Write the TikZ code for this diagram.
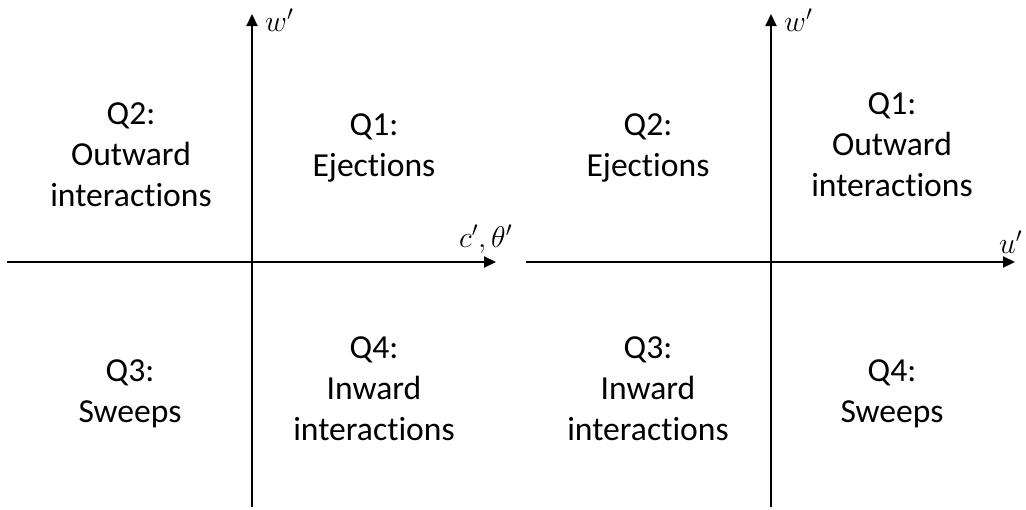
\RequirePackage{fix-cm}
\documentclass[tikz,border=0pt]{standalone}
\usepackage{fontspec}
\setmainfont{Carlito}[Ligatures=NoCommon]
\usetikzlibrary{arrows.meta}
\begin{document}
\begin{tikzpicture}[x=1pt,y=-1pt,
  axis/.style={line width=2.2pt,-{Triangle[length=12pt,width=11pt]}},
  quad/.style={align=center,anchor=base,inner sep=0pt,font=\fontsize{33.6}{41}\selectfont},
  lab/.style={anchor=base west,inner sep=0pt,font=\fontsize{30}{36}\selectfont}]
\useasboundingbox (0,0) rectangle (1026,509);
% left axes
\coordinate (lxs) at (7,262); \coordinate (lxe) at (496,262);
\coordinate (lys) at (252,507); \coordinate (lye) at (252,14);
\draw[axis] (lxs) -- (lxe);
\draw[axis] (lys) -- (lye);
% right axes
\coordinate (rxs) at (526,262); \coordinate (rxe) at (1015,262);
\coordinate (rys) at (771,507); \coordinate (rye) at (771,14);
\draw[axis] (rxs) -- (rxe);
\draw[axis] (rys) -- (rye);
% axis labels
\node[lab] (lw) at (265,31) {$w'$};
\node[lab] (lc) at (459,247) {$c',\theta'$};
\node[lab] (rw) at (784,31) {$w'$};
\node[lab] (ru) at (999,253) {$u'$};
% quadrant texts (anchored at baseline of last line)
\node[quad] (lq2) at (131,206) {Q2:\\Outward\\interactions};
\node[quad] (lq1) at (374,176) {Q1:\\Ejections};
\node[quad] (lq3) at (130,422) {Q3:\\Sweeps};
\node[quad] (lq4) at (374,440) {Q4:\\Inward\\interactions};
\node[quad] (rq2) at (648,176) {Q2:\\Ejections};
\node[quad] (rq1) at (892,196) {Q1:\\Outward\\interactions};
\node[quad] (rq3) at (648,440) {Q3:\\Inward\\interactions};
\node[quad] (rq4) at (892,422) {Q4:\\Sweeps};
\end{tikzpicture}
\end{document}
